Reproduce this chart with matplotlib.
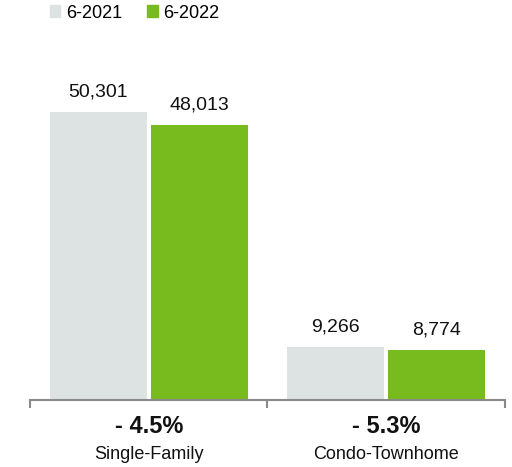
import matplotlib as mpl
mpl.use('Agg')
import matplotlib.pyplot as plt
from matplotlib.patches import Patch

plt.rcParams['font.family'] = ['Liberation Sans', 'DejaVu Sans']

categories = ["Single-Family", "Condo-Townhome"]
changes = ["- 4.5%", "- 5.3%"]
series_names = ["6-2021", "6-2022"]
values_2021 = [50301, 9266]
values_2022 = [48013, 8774]
colors = ["#dde2e2", "#78bb1f"]

fig = plt.figure(figsize=(5.12, 4.67), dpi=100)
ax = fig.add_axes([0.0586, 0.1435, 0.9277, 0.7356])

width = 0.408
offset = 0.2125
x = list(range(len(categories)))
for vals, off, col in [(values_2021, -offset, colors[0]), (values_2022, offset, colors[1])]:
    bars = ax.bar([i + off for i in x], vals, width=width, color=col)
    for b, v in zip(bars, vals):
        ax.annotate(f"{v:,}", (b.get_x() + b.get_width() / 2, v),
                    xytext=(0, 8), textcoords="offset points",
                    ha="center", va="bottom", fontsize=14, color="#111111")

ax.set_xlim(-0.5, 1.5)
ax.set_ylim(0, 60000)
for s in ["top", "right", "left"]:
    ax.spines[s].set_visible(False)
ax.spines["bottom"].set_color("#8a8a8a")
ax.spines["bottom"].set_linewidth(1.5)
ax.set_yticks([])
ax.set_xticks([-0.5, 0.5, 1.5])
ax.set_xticklabels([])
ax.tick_params(axis="x", length=6, width=1.5, color="#8a8a8a", direction="out")

for i in x:
    ax.text(i, -0.076, changes[i], transform=ax.get_xaxis_transform(),
            ha="center", va="center", fontsize=17, fontweight="bold", color="#111111")
    ax.text(i, -0.158, categories[i], transform=ax.get_xaxis_transform(),
            ha="center", va="center", fontsize=13, color="#111111")

handles = [Patch(color=c) for c in colors]
fig.legend(handles, series_names, loc="upper left", bbox_to_anchor=(0.065, 1.025),
           ncol=2, frameon=False, fontsize=13, handlelength=0.6, handleheight=0.6,
           handletextpad=0.3, columnspacing=1.4)

fig.savefig("out.png", dpi=100)
